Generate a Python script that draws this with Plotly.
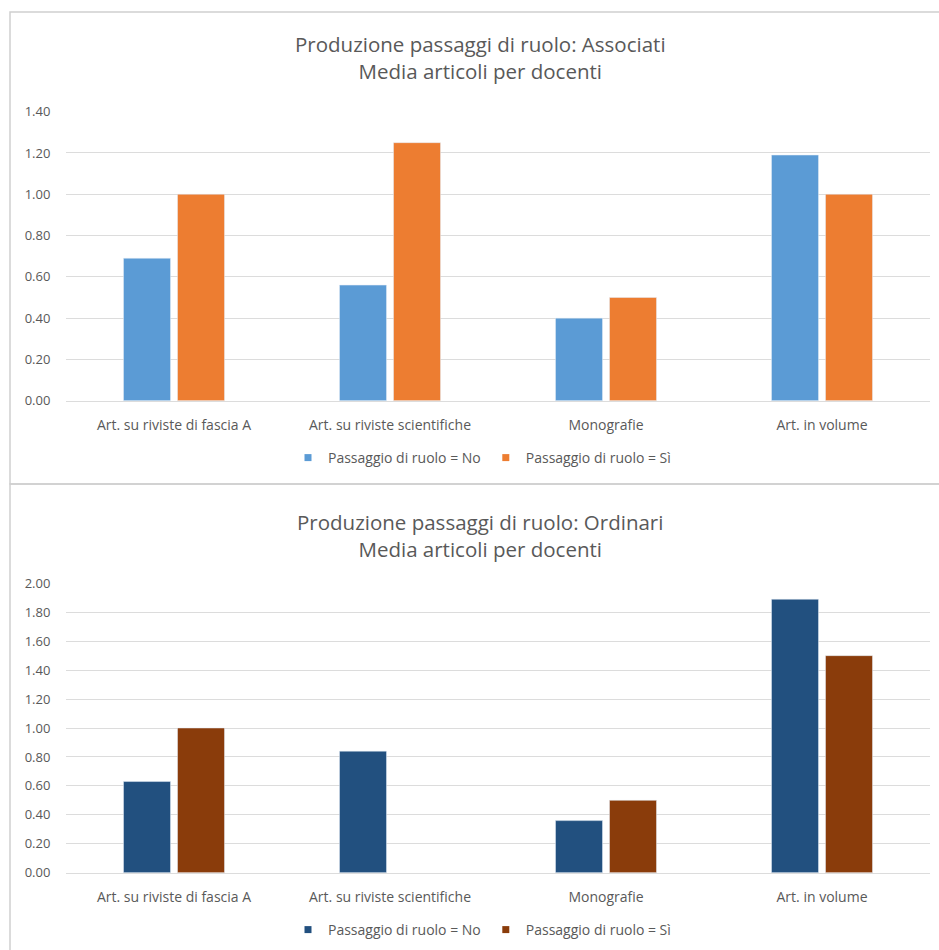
import plotly.graph_objects as go

# Categories and series values
categories = [
    "Art. su riviste di fascia A",
    "Art. su riviste scientifiche",
    "Monografie",
    "Art. in volume",
]
associati_no = [0.69, 0.56, 0.40, 1.19]
associati_si = [1.00, 1.25, 0.50, 1.00]
ordinari_no = [0.63, 0.84, 0.36, 1.89]
ordinari_si = [1.00, None, 0.50, 1.50]

series_names = ["Passaggio di ruolo = No", "Passaggio di ruolo = Sì"]
titles = [
    "Produzione passaggi di ruolo: Associati<br>Media articoli per docenti",
    "Produzione passaggi di ruolo: Ordinari<br>Media articoli per docenti",
]
colors_top = ["#5B9BD5", "#ED7D31"]
colors_bottom = ["#22507F", "#8A3C0B"]

W, H = 939, 950
FONT = "'Open Sans', sans-serif"
TEXT = "#595959"
GRID = "#DCDCDC"


def px(x):
    return x / W


def py(y):
    return 1 - y / H


fig = go.Figure()

panels = [
    ("x", "y", "legend", [associati_no, associati_si], colors_top),
    ("x2", "y2", "legend2", [ordinari_no, ordinari_si], colors_bottom),
]
for xa, ya, lg, series, cols in panels:
    for name, vals, col in zip(series_names, series, cols):
        fig.add_trace(go.Bar(x=categories, y=vals, name=name, marker_color=col,
                             xaxis=xa, yaxis=ya, showlegend=False))
        # legend entry with a small square swatch
        fig.add_trace(go.Scatter(x=[None], y=[None], mode="markers", name=name,
                                 marker=dict(symbol="square", size=7, color=col),
                                 xaxis=xa, yaxis=ya, legend=lg, showlegend=True))

xdom = [px(66), px(930)]
xaxis_common = dict(
    domain=xdom, showgrid=False, showline=True, linecolor=GRID, linewidth=1,
    ticks="outside", ticklen=11, tickcolor="rgba(0,0,0,0)",
    tickfont=dict(family=FONT, size=14, color=TEXT), fixedrange=True,
)
yaxis_common = dict(
    showgrid=True, gridcolor=GRID, gridwidth=1, zeroline=False, dtick=0.2,
    tickformat=".2f", ticks="outside", ticklen=12, tickcolor="rgba(0,0,0,0)",
    tickfont=dict(family=FONT, size=13, color=TEXT), fixedrange=True,
)
legend_common = dict(orientation="h", xanchor="center", yanchor="middle",
                     font=dict(family=FONT, size=14, color=TEXT), itemwidth=30,
                     bgcolor="rgba(0,0,0,0)", traceorder="normal")

fig.update_layout(
    width=W, height=H,
    margin=dict(l=0, r=0, t=0, b=0, autoexpand=False),
    paper_bgcolor="white", plot_bgcolor="white",
    barmode="group", bargap=0.5, bargroupgap=0.13,
    xaxis=dict(**xaxis_common, anchor="y"),
    yaxis=dict(**yaxis_common, domain=[py(400.7), py(111.7)], range=[0, 1.4], anchor="x"),
    xaxis2=dict(**xaxis_common, anchor="y2"),
    yaxis2=dict(**yaxis_common, domain=[py(872.7), py(583.3)], range=[0, 2.0], anchor="x2"),
    legend=dict(**legend_common, x=px(482), y=py(458)),
    legend2=dict(**legend_common, x=px(482), y=py(930)),
    showlegend=True,
)

# Chart titles
for title, ymid in zip(titles, [57, 535]):
    fig.add_annotation(text=title, x=px(480), y=py(ymid), xref="paper", yref="paper",
                       xanchor="center", yanchor="middle", showarrow=False,
                       font=dict(family=FONT, size=20.5, color=TEXT), align="center")

# Chart area frames
fig.add_shape(type="rect", xref="paper", yref="paper",
              x0=px(10), x1=px(960), y0=py(484), y1=py(12),
              line=dict(color="#D0D0D0", width=1.5), fillcolor="rgba(0,0,0,0)", layer="below")
fig.add_shape(type="rect", xref="paper", yref="paper",
              x0=px(10), x1=px(960), y0=py(970), y1=py(484),
              line=dict(color="#D0D0D0", width=1.5), fillcolor="rgba(0,0,0,0)", layer="below")

fig.write_html("out.html")
